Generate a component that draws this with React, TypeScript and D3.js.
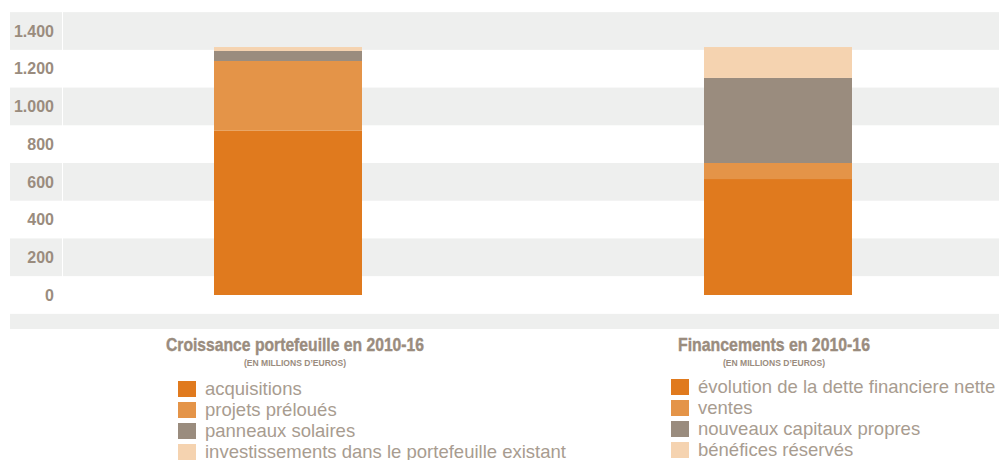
import React from "react";
import * as d3 from "d3";

const categories = ["Croissance portefeuille en 2010-16", "Financements en 2010-16"];
const subtitle = "(EN MILLIONS D\u2019EUROS)";
const ticks = [0, 200, 400, 600, 800, 1000, 1200, 1400];
const tickLabels = ["0", "200", "400", "600", "800", "1.000", "1.200", "1.400"];

const leftSeries = ["acquisitions", "projets préloués", "panneaux solaires", "investissements dans le portefeuille existant"];
const leftValues = [871, 370, 53, 21];
const rightSeries = ["évolution de la dette financiere nette", "ventes", "nouveaux capitaux propres", "bénéfices réservés"];
const rightValues = [615, 85, 451, 164];
const colors = ["#E07A1E", "#E49448", "#9A8C7E", "#F5D3B0"];

const W = 999;
const H = 460;

export default function App() {
  const y = d3.scaleLinear().domain([0, 1400]).range([295, 31]);
  const x = d3.scalePoint<string>().domain(categories).range([288, 778]);
  const barW = 148;
  const stacks = [leftValues, rightValues];
  const legends = [leftSeries, rightSeries];
  const legendX = [178, 671];
  const legendY = [381, 379];
  const titleLen = [258, 192];
  const titleShift = [7, -4];
  const textColor = "#9A8C7E";

  const bands = ticks.map((t, i) => ({ t, y0: y(t + 100), y1: y(t - 100), gray: (7 - i) % 2 === 0 }));

  return (
    <svg width={W} height={H} style={{ position: "absolute", left: 0, top: 0, background: "#fff" }}>
      {bands.filter(b => b.gray).map(b => (
        <g key={b.t}>
          <rect x={10} y={b.y0} width={52} height={b.y1 - b.y0} fill="#EEEFEE" />
          <rect x={63} y={b.y0} width={W - 63} height={b.y1 - b.y0} fill="#EEEFEE" />
        </g>
      ))}
      <rect x={10} y={y(-100)} width={W - 10} height={y(-180) - y(-100)} fill="#EEEFEE" />
      {ticks.map((t, i) => (
        <text key={t} x={54} y={y(t)} dy="0.36em" textAnchor="end" fontFamily="Liberation Sans, Arial, sans-serif" fontWeight="bold" fontSize={16} fill={textColor}>
          {tickLabels[i]}
        </text>
      ))}
      {stacks.map((vals, ci) => {
        let acc = 0;
        const cx = x(categories[ci]) as number;
        return (
          <g key={ci}>
            {vals.map((v, si) => {
              const y0 = acc;
              acc += v;
              return <rect key={si} x={cx - barW / 2} y={y(acc)} width={barW} height={y(y0) - y(acc)} fill={colors[si]} />;
            })}
          </g>
        );
      })}
      {categories.map((c, ci) => {
        const cx = (x(c) as number) + titleShift[ci];
        return (
          <g key={c}>
            <text x={cx} y={351} textAnchor="middle" textLength={titleLen[ci]} lengthAdjust="spacingAndGlyphs" fontFamily="Liberation Sans, Arial, sans-serif" fontWeight="bold" fontSize={18.5} fill={textColor} stroke={textColor} strokeWidth={0.4}>{c}</text>
            <text x={cx} y={366} textAnchor="middle" textLength={102} lengthAdjust="spacingAndGlyphs" fontFamily="Liberation Sans, Arial, sans-serif" fontWeight="bold" fontSize={8.5} fill={textColor}>{subtitle}</text>
          </g>
        );
      })}
      {legends.map((items, li) => (
        <g key={li}>
          {items.map((s, si) => (
            <g key={s} transform={`translate(${legendX[li]},${legendY[li] + si * 21})`}>
              <rect x={0} y={0} width={18} height={16} fill={colors[si]} />
              <text x={27} y={13.5} fontFamily="Liberation Sans, Arial, sans-serif" fontSize={18.5} fill="#A89C90">{s}</text>
            </g>
          ))}
        </g>
      ))}
    </svg>
  );
}
